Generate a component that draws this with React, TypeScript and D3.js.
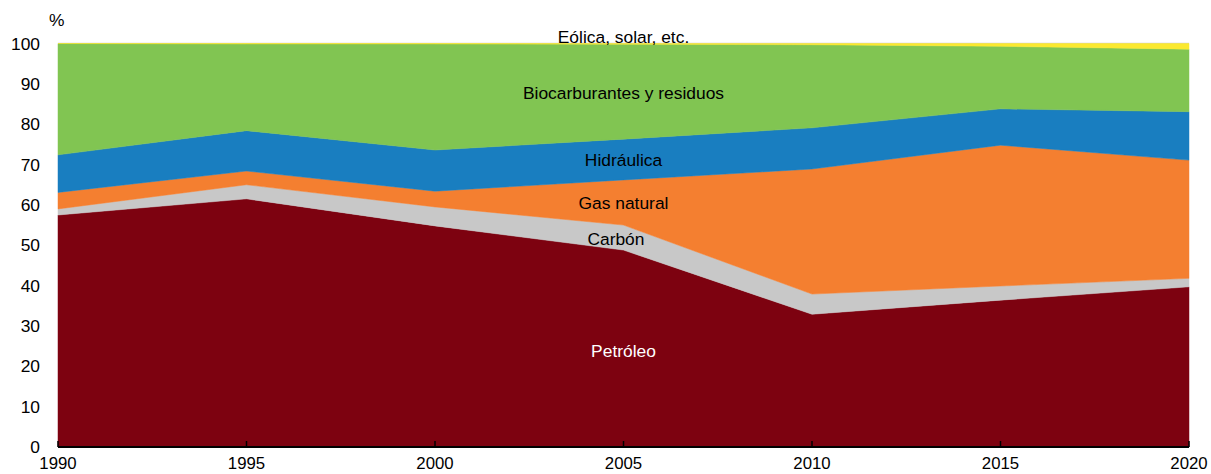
import React from "react";
import * as d3 from "d3";

const years = [1990, 1995, 2000, 2005, 2010, 2015, 2020];
const petroleo = [57.5, 61.5, 54.8, 48.8, 32.9, 36.4, 39.7];
const carbon = [1.5, 3.5, 4.7, 6.2, 5.0, 3.5, 2.1];
const gasNatural = [4.1, 3.4, 3.9, 11.2, 31.0, 34.9, 29.3];
const hidraulica = [9.3, 10.0, 10.2, 10.1, 10.2, 9.0, 12.0];
const biocarburantes = [27.6, 21.5, 26.3, 23.5, 20.6, 15.5, 15.5];
const eolica = [0.0, 0.1, 0.1, 0.2, 0.3, 0.7, 1.4];
const yTicks = [0, 10, 20, 30, 40, 50, 60, 70, 80, 90, 100];

const seriesDefs = [
  { key: "petroleo", values: petroleo, color: "#7d0210", label: "Petróleo", lx: 2005, ly: 350.5, fill: "#ffffff" },
  { key: "carbon", values: carbon, color: "#c8c8c8", label: "Carbón", lx: 2004.8, ly: 239, fill: "#000000" },
  { key: "gas", values: gasNatural, color: "#f47f30", label: "Gas natural", lx: 2005, ly: 203, fill: "#000000" },
  { key: "hidro", values: hidraulica, color: "#197ec0", label: "Hidráulica", lx: 2005, ly: 160, fill: "#000000" },
  { key: "bio", values: biocarburantes, color: "#81c552", label: "Biocarburantes y residuos", lx: 2005, ly: 93, fill: "#000000" },
  { key: "eolica", values: eolica, color: "#fbe92f", label: "Eólica, solar, etc.", lx: 2005, ly: 37, fill: "#000000" },
];

export default function App() {
  const W = 1211;
  const H = 474;
  const left = 58;
  const right = 1189;
  const top = 43.5;
  const bottom = 447;

  const x = d3.scaleLinear().domain([1990, 2020]).range([left, right]);
  const y = d3.scaleLinear().domain([0, 100]).range([bottom, top]);

  const table = years.map((yr, i) => {
    const row: any = { year: yr };
    seriesDefs.forEach((s) => (row[s.key] = s.values[i]));
    return row;
  });
  const stack = d3.stack().keys(seriesDefs.map((s) => s.key));
  const stacked = stack(table as any);
  const area = d3
    .area<any>()
    .x((d) => x(d.data.year))
    .y0((d) => y(d[0]))
    .y1((d) => y(d[1]));

  const font = "'Liberation Sans', Arial, sans-serif";

  return (
    <svg width={W} height={H} style={{ position: "absolute", left: 0, top: 0 }} fontFamily={font}>
      <rect x={0} y={0} width={W} height={H} fill="#ffffff" />
      <line x1={left} x2={right} y1={y(100)} y2={y(100)} stroke="#cfcfcf" strokeWidth={1.5} />
      {stacked.map((layer, i) => (
        <path key={seriesDefs[i].key} d={area(layer as any) || ""} fill={seriesDefs[i].color} stroke={seriesDefs[i].color} strokeWidth={0.5} />
      ))}
      {seriesDefs.map((s) => (
        <text key={"lbl-" + s.key} x={x(s.lx)} y={s.ly} textAnchor="middle" dominantBaseline="central" fontSize={17.4} fill={s.fill}>
          {s.label}
        </text>
      ))}
      <line x1={left} x2={right} y1={bottom} y2={bottom} stroke="#000" strokeWidth={2} />
      {years.map((yr) => (
        <g key={"xt" + yr}>
          <line x1={x(yr)} x2={x(yr)} y1={bottom} y2={bottom - 6} stroke="#000" strokeWidth={1.5} />
          <text x={x(yr)} y={463} textAnchor="middle" dominantBaseline="central" fontSize={16.8} fill="#000">
            {yr}
          </text>
        </g>
      ))}
      {yTicks.map((t) => (
        <text key={"yt" + t} x={40} y={y(t)} textAnchor="end" dominantBaseline="central" fontSize={17.4} fill="#000">
          {t}
        </text>
      ))}
      <text x={49} y={20} dominantBaseline="central" fontSize={17.4} fill="#000">
        %
      </text>
    </svg>
  );
}
